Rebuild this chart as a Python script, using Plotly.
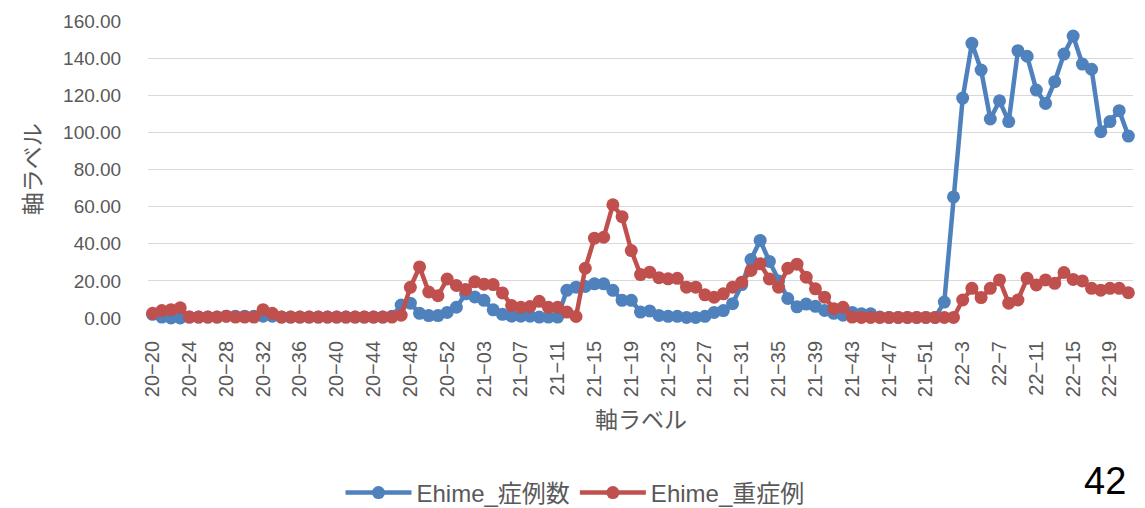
import plotly.graph_objects as go

weeks_2020 = [f"20−{w:02d}" for w in range(20, 54)]
weeks_2021 = [f"21−{w:02d}" for w in range(1, 53)]
weeks_2022 = [f"22−{w}" for w in range(1, 22)]
categories = weeks_2020 + weeks_2021 + weeks_2022

cases_2020 = [2, 0.5, 0, 0, 0.5, 0.5, 0.5, 0.5, 1, 1, 1, 1, 1, 1, 0.5, 0.5, 0.5,
              0.5, 0.5, 0.5, 0.5, 0.5, 0.5, 0.5, 0.5, 0.5, 1, 7, 8, 2.5, 1.3, 1.3, 3, 5.8]
cases_2021 = [13, 11.3, 9.5, 4.4, 2, 1, 1, 1, 0.5, 0.5, 0.5, 14.9, 16.6, 17, 18.4, 18.4,
              14.9, 9.5, 9.5, 3.2, 3.8, 1.4, 0.9, 0.9, 0.3, 0.3, 0.9, 3, 4, 7.7, 18, 31.5,
              41.8, 30.5, 20, 10.5, 6, 7.5, 6.3, 4.1, 2.5, 1.5, 3, 2.3, 2.3, 0.5, 0.3, 0.3,
              0.3, 0.3, 0.3, 0.3]
cases_2022 = [8.6, 65.2, 118.5, 148, 133.6, 107.2, 117, 105.8, 144, 141, 122.8, 115.6,
              127.3, 142.2, 151.9, 136.8, 134, 100.4, 105.8, 111.7, 98]

severe_2020 = [2.5, 4, 4.5, 5.5, 0.5, 0.5, 0.5, 0.5, 1, 0.5, 0.5, 0.5, 4.5, 2.5, 0.5, 0.5,
               0.5, 0.5, 0.5, 0.5, 0.5, 0.5, 0.5, 0.5, 0.5, 0.5, 0.5, 1.5, 16.5, 27.5, 14,
               12, 21, 17.5]
severe_2021 = [15.3, 19.5, 18.2, 18, 13.5, 6.7, 5.8, 6.2, 9, 5.8, 5.8, 3.2, 0.8, 26.8, 43,
               43.5, 61, 54.6, 36.3, 23.4, 24.7, 21.7, 21.1, 21.4, 16.6, 16.6, 12.5, 11.2,
               13, 16.6, 19.3, 25.6, 29.2, 21, 16.6, 26.8, 29, 22, 15.7, 11.2, 5, 5.8, 0.5,
               0.3, 0.3, 0.3, 0.3, 0.3, 0.3, 0.3, 0.3, 0.3]
severe_2022 = [0.3, 0.3, 9.7, 16, 11, 16, 20.5, 8, 9.7, 21.4, 17.8, 20.5, 18.7, 24.5, 20.8,
               20, 16, 15, 16, 16, 13.6]

cases = cases_2020 + cases_2021 + cases_2022
severe = severe_2020 + severe_2021 + severe_2022

y_ticks = [0, 20, 40, 60, 80, 100, 120, 140, 160]

FONT = "Liberation Sans, Noto Sans CJK JP, sans-serif"
GREY = "#595959"
CLEAR = "rgba(0,0,0,0)"

fig = go.Figure()
fig.add_trace(go.Scatter(
    x=categories, y=cases, mode="lines+markers", name="Ehime_症例数",
    line=dict(color="#4f81bd", width=4.5), marker=dict(color="#4f81bd", size=13),
    cliponaxis=False))
fig.add_trace(go.Scatter(
    x=categories, y=severe, mode="lines+markers", name="Ehime_重症例",
    line=dict(color="#c0504d", width=4.5), marker=dict(color="#c0504d", size=13),
    cliponaxis=False))

fig.update_layout(
    width=1137, height=500,
    margin=dict(l=140, r=12, t=13, b=190, autoexpand=False),
    paper_bgcolor="white", plot_bgcolor="white",
    font=dict(family=FONT, color=GREY, size=18),
    showlegend=True,
    legend=dict(orientation="h", x=0.4335, y=-0.589, xanchor="center", yanchor="middle",
                font=dict(size=24, color=GREY), itemwidth=66, tracegroupgap=0,
                borderwidth=0),
    xaxis=dict(type="category", categoryorder="array", categoryarray=categories,
               range=[-0.5, len(categories) - 0.5], tickmode="linear", tick0=0, dtick=4,
               tickangle=-90, showgrid=False, showline=False,
               ticks="outside", ticklen=14, tickcolor=CLEAR,
               tickfont=dict(size=20, color=GREY), automargin=False),
    yaxis=dict(range=[0, 160], tickvals=y_ticks,
               ticktext=[f"{v:.2f}" for v in y_ticks],
               showgrid=True, gridcolor="#d9d9d9", gridwidth=1.3, zeroline=False,
               showline=False, ticks="outside", ticklen=22, tickcolor=CLEAR,
               tickfont=dict(size=19, color=GREY), automargin=False),
    annotations=[
        dict(text="軸ラベル", xref="paper", yref="paper", x=-0.117, y=0.5,
             textangle=-90, showarrow=False, font=dict(size=23, color=GREY),
             xanchor="center", yanchor="middle"),
        dict(text="軸ラベル", xref="paper", yref="paper", x=0.5, y=-0.345,
             showarrow=False, font=dict(size=23, color=GREY),
             xanchor="center", yanchor="middle"),
        dict(text="42", xref="paper", yref="paper", x=0.972, y=-0.55,
             showarrow=False, font=dict(size=38, color="black"),
             xanchor="center", yanchor="middle"),
    ],
)

fig.write_html("out.html")
